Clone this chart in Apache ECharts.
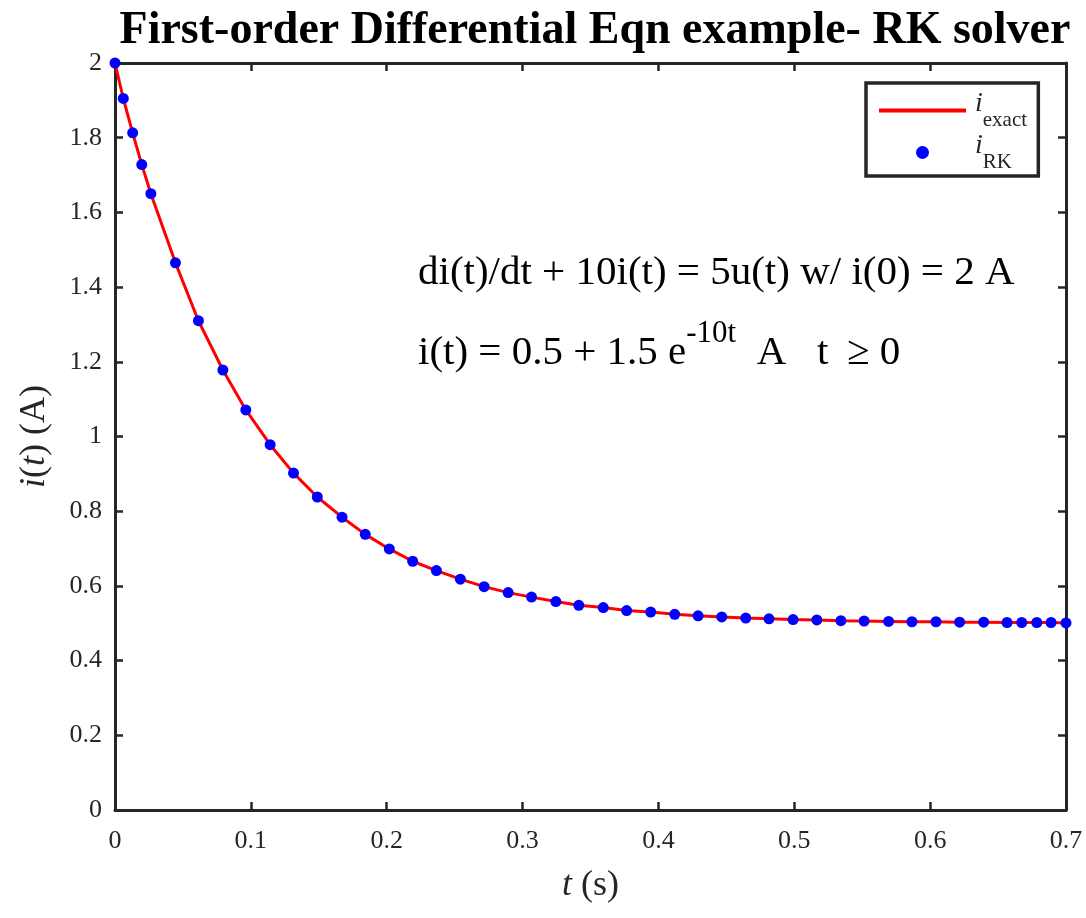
<!DOCTYPE html>
<html>
<head>
<meta charset="utf-8">
<title>RK solver</title>
<script src="https://cdn.jsdelivr.net/npm/echarts@6/dist/echarts.min.js"></script>
<style>
    html, body { margin: 0; padding: 0; background: #fff; }
    #chart { width: 1086px; height: 918px; }
</style>
</head>
<body>
<div id="chart"></div>
<script>
// time samples of the RK solver (s)
const tValues = [
    0, 0.0061, 0.0130, 0.0197, 0.0264, 0.0445, 0.0614, 0.0794, 0.0963, 0.1142,
    0.1314, 0.1489, 0.1671, 0.1842, 0.2019, 0.2191, 0.2366, 0.2542, 0.2717, 0.2894,
    0.3066, 0.3245, 0.3414, 0.3594, 0.3766, 0.3943, 0.4120, 0.4292, 0.4466, 0.4643,
    0.4814, 0.4991, 0.5166, 0.5343, 0.5514, 0.5694, 0.5866, 0.6043, 0.6217, 0.6394,
    0.6566, 0.6674, 0.6785, 0.6890, 0.7
];
// current i(t) (A) at those samples
const iValues = [
    2.0, 1.905, 1.813, 1.728, 1.650, 1.465, 1.310, 1.178, 1.071, 0.978,
    0.902, 0.838, 0.784, 0.738, 0.699, 0.666, 0.641, 0.618, 0.598, 0.582,
    0.570, 0.558, 0.548, 0.542, 0.534, 0.530, 0.524, 0.520, 0.517, 0.514,
    0.512, 0.510, 0.509, 0.507, 0.506, 0.505, 0.504, 0.504, 0.503, 0.503,
    0.502, 0.502, 0.502, 0.502, 0.501
];
const seriesNames = ['exact', 'RK'];
const xTicks = { min: 0, max: 0.7, step: 0.1 };
const yTicks = { min: 0, max: 2, step: 0.2 };

const points = tValues.map(function (t, k) { return [t, iValues[k]]; });

const serif = '"Liberation Serif", "Times New Roman", serif';
const axisColor = '#262626';

const chart = echarts.init(document.getElementById('chart'), null, { renderer: 'canvas' });

function boxAxis(pos, showLabel, extra) {
    return Object.assign({
        type: 'value',
        position: pos,
        axisLine: { show: true, onZero: false, lineStyle: { color: axisColor, width: 3 } },
        axisTick: { show: true, inside: true, length: 8, lineStyle: { color: axisColor, width: 2.5 } },
        splitLine: { show: false },
        axisLabel: {
            show: showLabel,
            color: axisColor,
            fontFamily: serif,
            fontSize: 26
        }
    }, extra);
}

const option = {
    animation: false,
    backgroundColor: '#fff',
    title: {
        text: 'First-order Differential Eqn example- RK solver',
        left: 590,
        top: 3,
        textAlign: 'center',
        textStyle: {
            fontFamily: serif,
            fontWeight: 'bold',
            fontSize: 46,
            color: '#000'
        }
    },
    grid: { left: 115, right: 20, top: 63, bottom: 108 },
    legend: {
        left: 866,
        top: 83,
        orient: 'vertical',
        padding: [7, 11, 3, 11],
        itemGap: 1,
        itemWidth: 87,
        itemHeight: 13,
        borderColor: axisColor,
        borderWidth: 3.5,
        backgroundColor: '#fff',
        lineStyle: { width: 4 },
        data: [
            { name: seriesNames[0], itemStyle: { opacity: 0 } },
            { name: seriesNames[1] }
        ],
        formatter: function (name) {
            return '{i|i}{sub|' + name + '}{pad| }';
        },
        textStyle: {
            fontFamily: serif,
            color: axisColor,
            rich: {
                i: { fontFamily: serif, fontStyle: 'italic', fontSize: 28, lineHeight: 32, verticalAlign: 'top', padding: [0, 0, 0, 4], color: axisColor },
                sub: { fontFamily: serif, fontSize: 21, lineHeight: 19, verticalAlign: 'bottom', color: axisColor },
                pad: { fontSize: 1, lineHeight: 41, verticalAlign: 'middle' }
            }
        }
    },
    xAxis: [
        boxAxis('bottom', true, {
            min: xTicks.min, max: xTicks.max, interval: xTicks.step,
            name: '{it|t} (s)',
            nameLocation: 'middle',
            nameGap: 58,
            nameTextStyle: {
                fontFamily: serif, fontSize: 36, color: axisColor,
                rich: { it: { fontFamily: serif, fontStyle: 'italic', fontSize: 36, color: axisColor } }
            },
            axisLabel: { show: true, color: axisColor, fontFamily: serif, fontSize: 26, margin: 18 }
        }),
        boxAxis('top', false, { min: xTicks.min, max: xTicks.max, interval: xTicks.step })
    ],
    yAxis: [
        boxAxis('left', true, {
            min: yTicks.min, max: yTicks.max, interval: yTicks.step,
            name: '{it|i}({it|t}) (A)',
            nameLocation: 'middle',
            nameGap: 62,
            nameTextStyle: {
                fontFamily: serif, fontSize: 36, color: axisColor,
                rich: { it: { fontFamily: serif, fontStyle: 'italic', fontSize: 36, color: axisColor } }
            },
            axisLabel: { show: true, color: axisColor, fontFamily: serif, fontSize: 26, margin: 13 }
        }),
        boxAxis('right', false, { min: yTicks.min, max: yTicks.max, interval: yTicks.step })
    ],
    graphic: [
        {
            type: 'text',
            left: 418,
            top: 253,
            style: {
                text: 'di(t)/dt + 10i(t) = 5u(t) w/ i(0) = 2 A',
                fontFamily: serif,
                fontSize: 41,
                fill: '#000'
            }
        },
        {
            type: 'text',
            left: 418,
            top: 318,
            style: {
                text: '{n|i(t) = 0.5 + 1.5 e}{sup|-10t}{n|  A   t \u2009≥ 0}{pad| }',
                fontFamily: serif,
                fill: '#000',
                rich: {
                    n: { fontFamily: serif, fontSize: 41, lineHeight: 41, verticalAlign: 'bottom', fill: '#000' },
                    sup: { fontFamily: serif, fontSize: 31, lineHeight: 31, verticalAlign: 'top', fill: '#000' },
                    pad: { fontSize: 1, lineHeight: 56, verticalAlign: 'middle' }
                }
            }
        }
    ],
    series: [
        {
            name: seriesNames[0],
            type: 'line',
            data: points,
            symbol: 'none',
            lineStyle: { color: '#ff0000', width: 3 },
            itemStyle: { color: '#ff0000' },
            z: 2
        },
        {
            name: seriesNames[1],
            type: 'scatter',
            data: points,
            symbol: 'circle',
            symbolSize: 11,
            clip: false,
            itemStyle: { color: '#0000ff', opacity: 1 },
            z: 3
        }
    ]
};

chart.setOption(option);
</script>
</body>
</html>
